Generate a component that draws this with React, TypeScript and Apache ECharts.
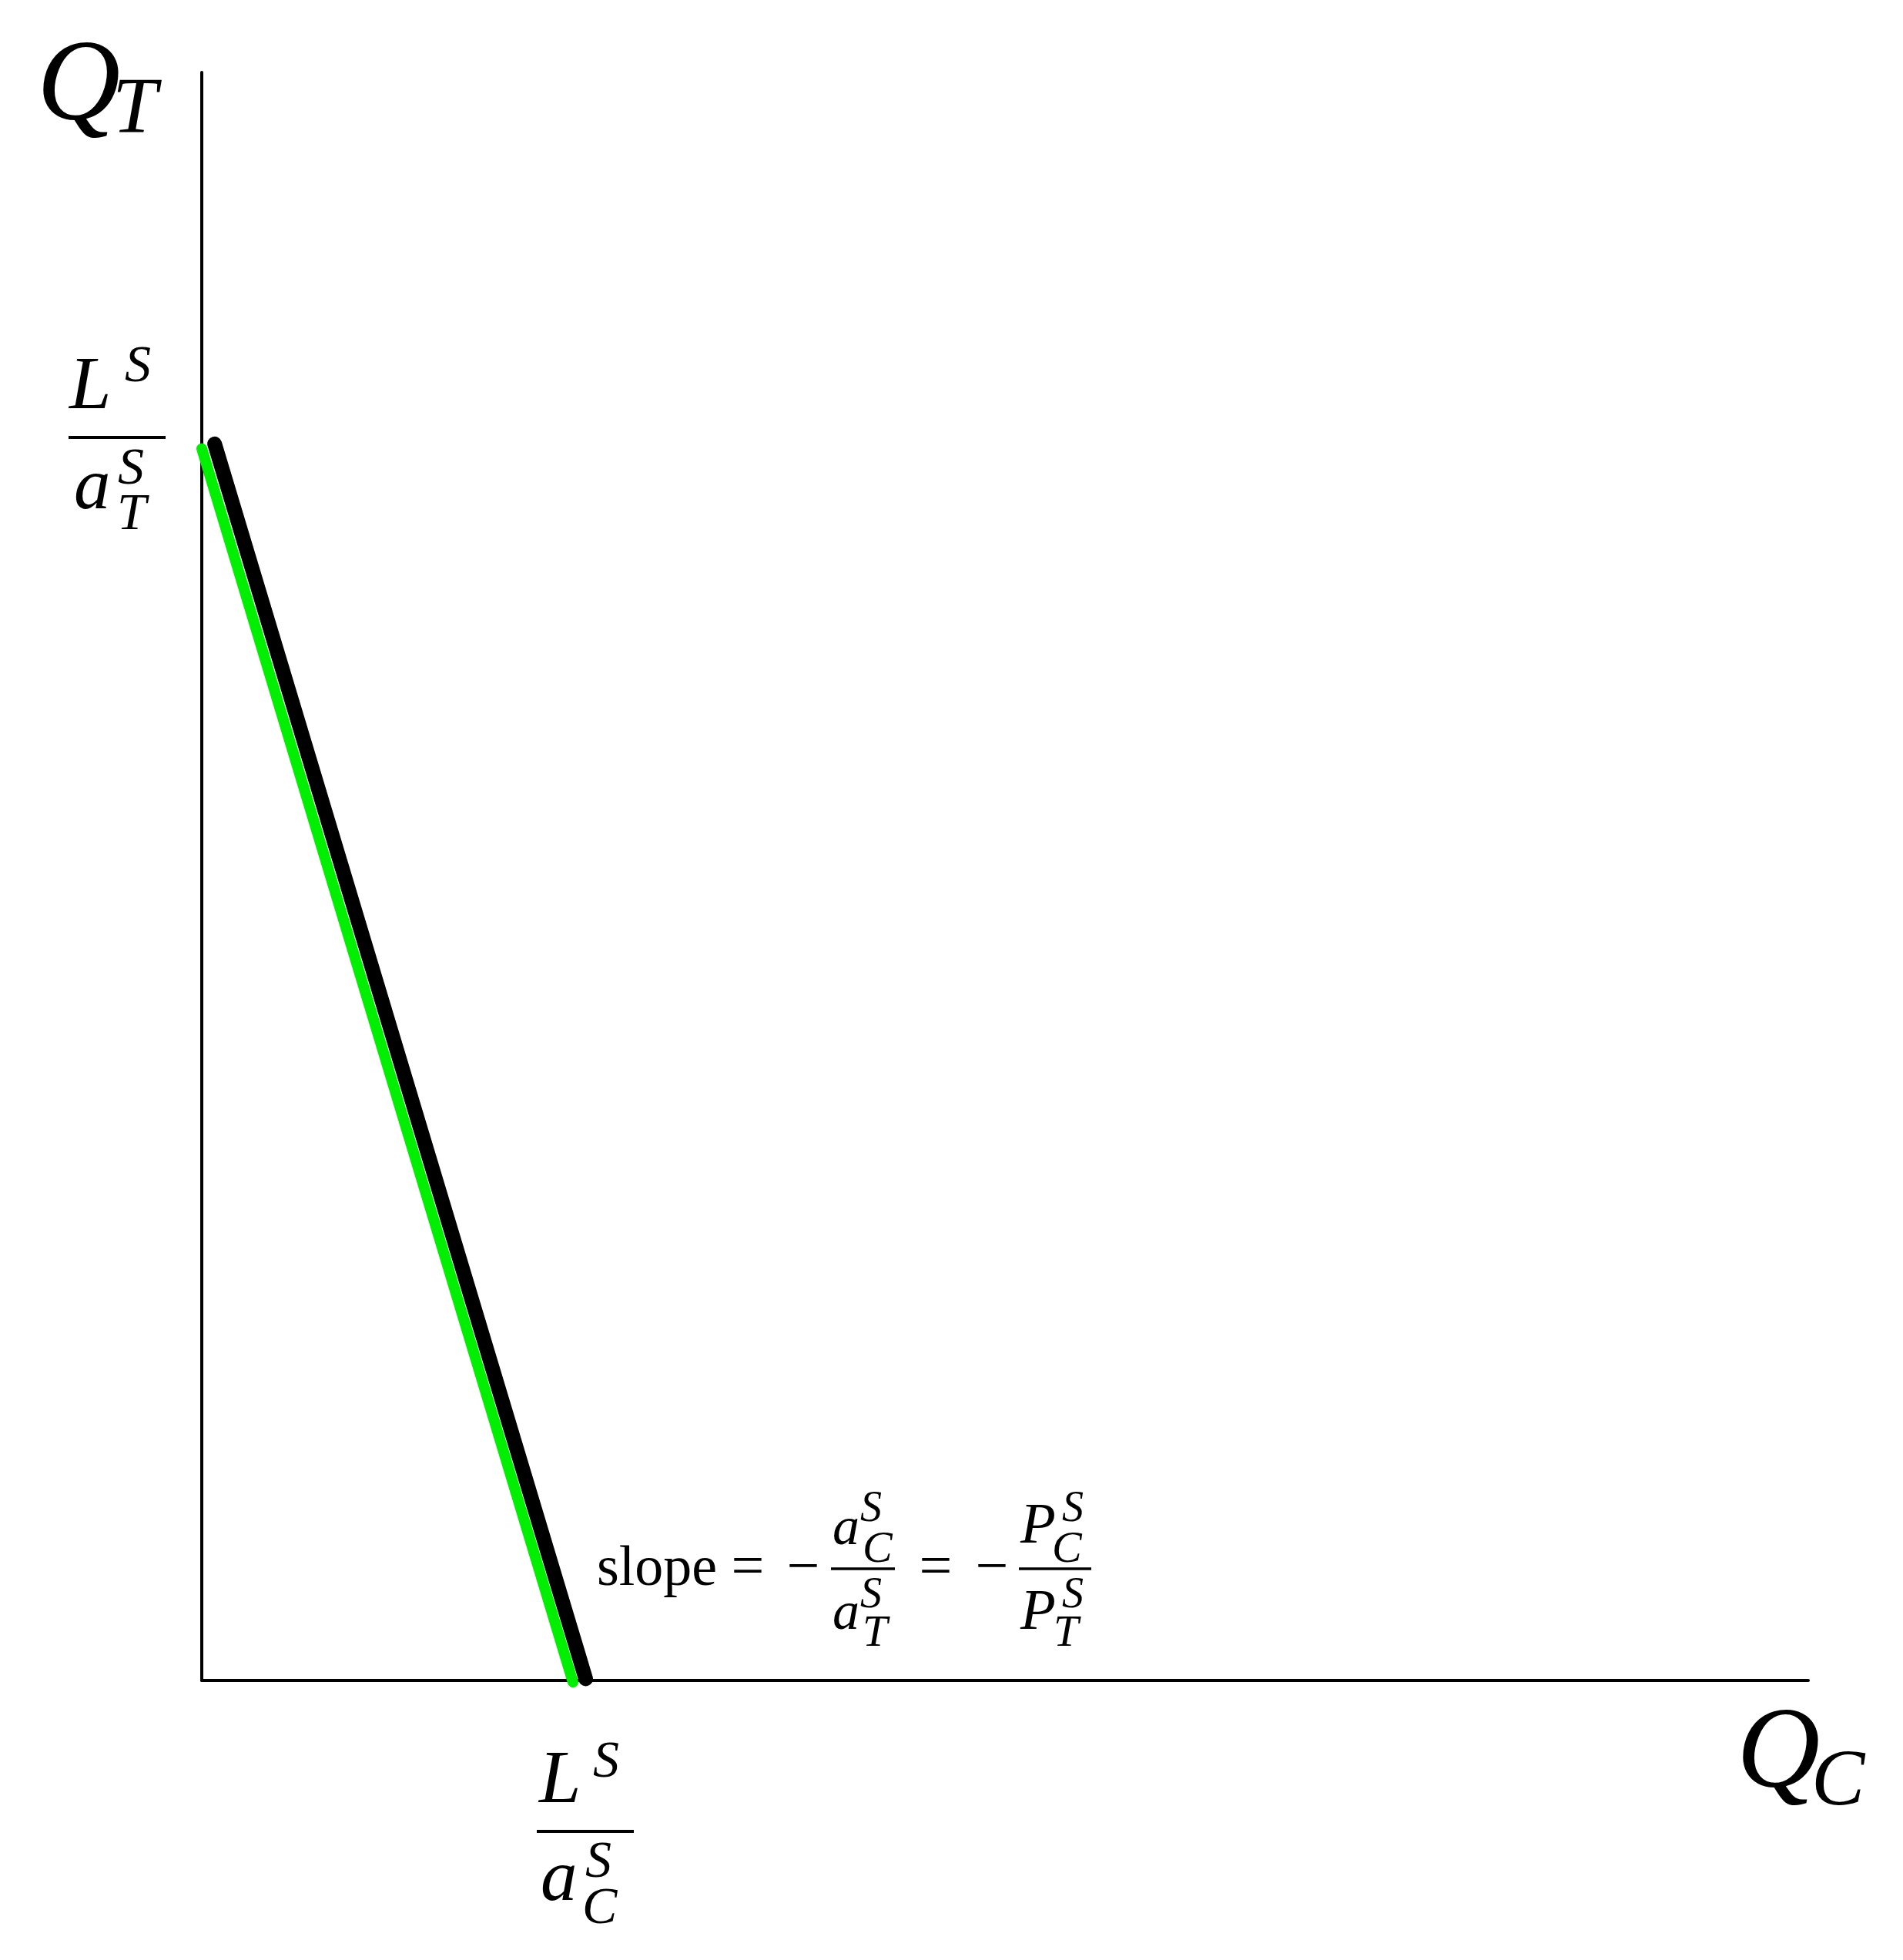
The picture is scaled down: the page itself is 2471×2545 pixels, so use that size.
import React, { useEffect, useRef } from "react";
import * as echarts from "echarts";

// Data (axis units 0..10)
const budgetLineBlack: number[][] = [
  [0.08, 7.69],
  [2.39, 0.01],
];
const budgetLineGreen: number[][] = [
  [0.0, 7.66],
  [2.31, -0.01],
];
const axisMax = 10;

const SERIF = "'Liberation Serif', 'Times New Roman', serif";

type T = { s: string; x: number; baseline: number; size: number; italic?: boolean; align?: string };

const txt = (t: T) => ({
  type: "text",
  x: t.x,
  y: t.baseline - 0.3375 * t.size,
  style: {
    text: t.s,
    fill: "#000",
    font: `${t.italic === false ? "normal" : "italic"} ${t.size}px ${SERIF}`,
    textAlign: t.align || "left",
    textVerticalAlign: "middle",
  },
});

const bar = (x1: number, x2: number, y: number, w = 3.5) => ({
  type: "line",
  shape: { x1, y1: y, x2, y2: y },
  style: { stroke: "#000", lineWidth: w },
});

export default function App() {
  const ref = useRef<HTMLDivElement>(null);
  useEffect(() => {
    document.body.style.margin = "0";
    if (!ref.current) return;
    const chart = echarts.init(ref.current, null, { renderer: "svg" });
    const graphic: any[] = [
      // Q_T
      txt({ s: "Q", x: 48, baseline: 155, size: 150 }),
      txt({ s: "T", x: 146, baseline: 172, size: 104 }),
      // Q_C
      txt({ s: "Q", x: 2255, baseline: 2320, size: 150 }),
      txt({ s: "C", x: 2352, baseline: 2343, size: 104 }),
      // L^S / a_T^S (left)
      txt({ s: "L", x: 90, baseline: 530, size: 98 }),
      txt({ s: "S", x: 162, baseline: 495, size: 68 }),
      bar(89, 215, 568, 4),
      txt({ s: "a", x: 96, baseline: 660, size: 95 }),
      txt({ s: "S", x: 153, baseline: 628, size: 68 }),
      txt({ s: "T", x: 152, baseline: 687, size: 68 }),
      // L^S / a_C^S (bottom)
      txt({ s: "L", x: 700, baseline: 2340, size: 98 }),
      txt({ s: "S", x: 770, baseline: 2307, size: 68 }),
      bar(697, 823, 2378, 4),
      txt({ s: "a", x: 702, baseline: 2467, size: 95 }),
      txt({ s: "S", x: 760, baseline: 2437, size: 68 }),
      txt({ s: "C", x: 756, baseline: 2497, size: 68 }),
      // slope formula
      txt({ s: "slope", x: 775, baseline: 2058, size: 74, italic: false }),
      txt({ s: "=", x: 971, baseline: 2058, size: 76, italic: false, align: "center" }),
      txt({ s: "\u2212", x: 1043, baseline: 2058, size: 76, italic: false, align: "center" }),
      txt({ s: "a", x: 1081, baseline: 2005, size: 70 }),
      txt({ s: "S", x: 1117, baseline: 1975, size: 56 }),
      txt({ s: "C", x: 1120, baseline: 2028, size: 58 }),
      bar(1079, 1162, 2037),
      txt({ s: "a", x: 1081, baseline: 2115, size: 70 }),
      txt({ s: "S", x: 1117, baseline: 2087, size: 56 }),
      txt({ s: "T", x: 1120, baseline: 2137, size: 58 }),
      txt({ s: "=", x: 1215, baseline: 2058, size: 76, italic: false, align: "center" }),
      txt({ s: "\u2212", x: 1288, baseline: 2058, size: 76, italic: false, align: "center" }),
      txt({ s: "P", x: 1325, baseline: 2003, size: 75 }),
      txt({ s: "S", x: 1379, baseline: 1975, size: 56 }),
      txt({ s: "C", x: 1366, baseline: 2028, size: 58 }),
      bar(1323, 1417, 2037),
      txt({ s: "P", x: 1325, baseline: 2115, size: 75 }),
      txt({ s: "S", x: 1379, baseline: 2087, size: 56 }),
      txt({ s: "T", x: 1368, baseline: 2137, size: 58 }),
    ];
    chart.setOption({
      animation: false,
      backgroundColor: "#fff",
      grid: { left: 262, top: 94, width: 2086, height: 2088 },
      xAxis: {
        type: "value",
        min: 0,
        max: axisMax,
        axisLine: { show: true, onZero: false, lineStyle: { color: "#000", width: 4 } },
        axisTick: { show: false },
        axisLabel: { show: false },
        splitLine: { show: false },
      },
      yAxis: {
        type: "value",
        min: 0,
        max: axisMax,
        axisLine: { show: true, onZero: false, lineStyle: { color: "#000", width: 4 } },
        axisTick: { show: false },
        axisLabel: { show: false },
        splitLine: { show: false },
      },
      series: [
        {
          type: "line",
          data: budgetLineBlack,
          symbol: "none",
          clip: false,
          lineStyle: { color: "#000", width: 19, cap: "round" },
          z: 3,
        },
        {
          type: "line",
          data: budgetLineGreen,
          symbol: "none",
          clip: false,
          lineStyle: { color: "#00ee00", width: 14, cap: "round" },
          z: 4,
        },
      ],
      graphic,
    });
    return () => chart.dispose();
  }, []);
  return <div ref={ref} style={{ width: 2471, height: 2545 }} />;
}
